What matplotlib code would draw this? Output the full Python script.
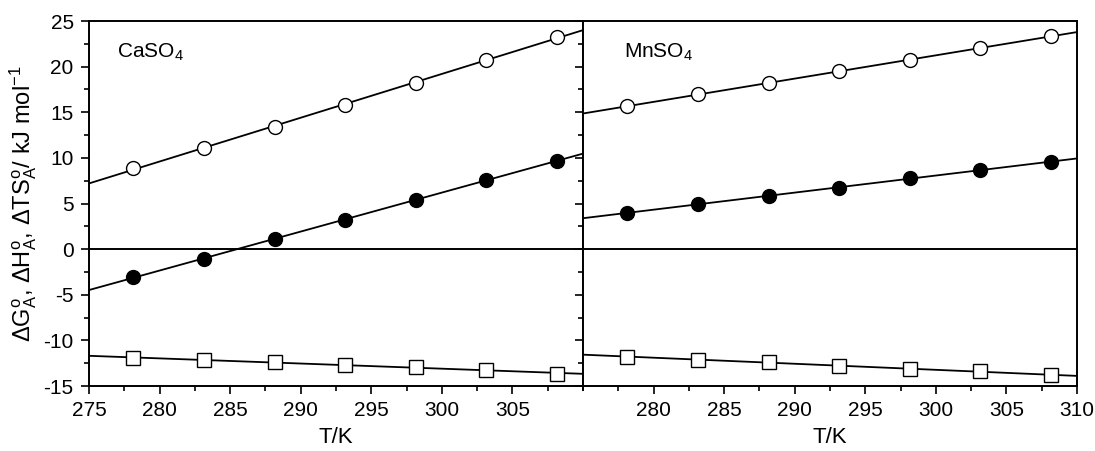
import numpy as np
from matplotlib import pyplot as plt
from matplotlib.ticker import MultipleLocator

plt.rcParams['font.family'] = ['Liberation Sans', 'DejaVu Sans']
plt.rcParams['mathtext.fontset'] = 'custom'
plt.rcParams['mathtext.rm'] = 'Liberation Sans'
plt.rcParams['mathtext.it'] = 'Liberation Sans'
plt.rcParams['mathtext.bf'] = 'Liberation Sans:bold'
plt.rcParams['axes.unicode_minus'] = False

T = [278.15, 283.15, 288.15, 293.15, 298.15, 303.15, 308.15]

# CaSO4
ca_TS = [8.9, 11.1, 13.4, 15.8, 18.2, 20.7, 23.3]
ca_H = [-3.0, -1.1, 1.1, 3.2, 5.4, 7.6, 9.7]
ca_G = [-11.9, -12.2, -12.4, -12.7, -12.9, -13.2, -13.7]

# MnSO4
mn_TS = [15.7, 16.95, 18.2, 19.5, 20.7, 22.0, 23.4]
mn_H = [4.0, 4.9, 5.85, 6.75, 7.75, 8.65, 9.6]
mn_G = [-11.8, -12.1, -12.4, -12.8, -13.1, -13.4, -13.8]

panels = [("CaSO$_4$", ca_TS, ca_H, ca_G), ("MnSO$_4$", mn_TS, mn_H, mn_G)]

fig = plt.figure(figsize=(10.95, 4.51), dpi=100)
fig.subplots_adjust(left=0.0813, right=0.9836, bottom=0.1441, top=0.9534, wspace=0)
axs = fig.subplots(1, 2, sharey=True)

xfit = np.array([275, 310])
for k, (ax, (name, ts, h, g)) in enumerate(zip(axs, panels)):
    ax.axhline(0, color='k', lw=1.4, zorder=1)
    for vals, face, mk in [(ts, 'white', 'o'), (h, 'black', 'o'), (g, 'white', 's')]:
        p = np.polyfit(T, vals, 1)
        ax.plot(xfit, np.polyval(p, xfit), color='k', lw=1.3, zorder=2)
        ax.plot(T, vals, mk, ms=10 if mk == 'o' else 9.5, mfc=face, mec='k', mew=1.0, zorder=3)
    ax.set_xlim(275, 310)
    ax.set_ylim(-15, 25)
    ax.xaxis.set_major_locator(MultipleLocator(5))
    ax.xaxis.set_minor_locator(MultipleLocator(2.5))
    ax.yaxis.set_major_locator(MultipleLocator(5))
    ax.yaxis.set_minor_locator(MultipleLocator(2.5))
    ax.tick_params(which='both', direction='out', labelsize=15, width=1.2, top=False, right=False)
    ax.tick_params(which='major', length=6, pad=5)
    ax.tick_params(which='minor', length=3.5)
    for s in ax.spines.values():
        s.set_linewidth(1.4)
    ax.set_xlabel('T/K', fontsize=16, labelpad=5)
    ax.text(0.057 if k == 0 else 0.083, 0.915, name, transform=ax.transAxes, fontsize=15, va='center')

axs[0].set_xticks([275, 280, 285, 290, 295, 300, 305])
axs[1].set_xticks([280, 285, 290, 295, 300, 305, 310])
axs[1].tick_params(labelleft=False)
axs[0].set_ylabel(r'$\Delta$G$^{\rm o}_{\rm A}$, $\Delta$H$^{\rm o}_{\rm A}$, $\Delta$TS$^{\rm o}_{\rm A}$/ kJ mol$^{-1}$',
                  fontsize=17, labelpad=3)

plt.savefig('out.png', dpi=100)
